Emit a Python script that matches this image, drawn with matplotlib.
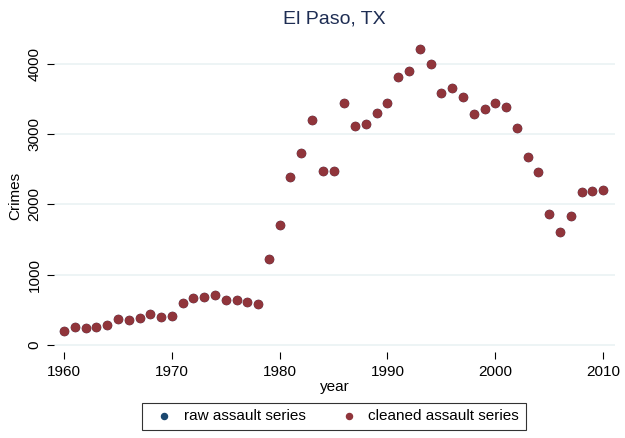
import numpy as np
import matplotlib
matplotlib.use("Agg")
from matplotlib import pyplot as plt

plt.rcParams['font.family'] = ['Liberation Sans', 'DejaVu Sans']

years = list(range(1960, 2011))
cleaned = [199, 256, 242, 256, 285, 370, 356, 384, 441, 399,
           413, 598, 669, 683, 712, 640, 640, 612, 584, 1224,
           1708, 2391, 2733, 3203, 2477, 2477, 3445, 3117, 3146, 3302,
           3445, 3815, 3900, 4213, 4000, 3587, 3658, 3530, 3288, 3359,
           3445, 3388, 3089, 2676, 2463, 1865, 1609, 1836, 2178, 2192,
           2206]
raw = list(cleaned)

fig = plt.figure(figsize=(6.25, 4.38), dpi=100)
ax = fig.add_axes([54/625, 1 - 352/438, 561/625, 312/438])

ax.scatter(years, raw, s=34, color="#1a476f", label="raw assault series", zorder=2)
ax.scatter(years, cleaned, s=34, color="#90353b", label="cleaned assault series", zorder=3)

ax.set_xlim(1959.07, 2011.1)
ax.set_ylim(-100, 4340)
ax.set_xticks([1960, 1970, 1980, 1990, 2000, 2010])
ax.set_yticks([0, 1000, 2000, 3000, 4000])
ax.set_yticklabels(["0", "1000", "2000", "3000", "4000"], rotation=90, va="center")
ax.grid(axis="y", color="#eaf2f3", linewidth=1.2)
ax.set_axisbelow(True)
for s in ax.spines.values():
    s.set_visible(False)
ax.tick_params(axis="both", labelsize=11, length=5, color="black", width=0.8, pad=4)

ax.set_xlabel("year", fontsize=11, labelpad=1)
ax.set_ylabel("Crimes", fontsize=11, labelpad=4)
ax.set_title("El Paso, TX", fontsize=14, color="#1e2d53", pad=12)

leg = fig.legend(loc="lower center", bbox_to_anchor=(334/625, 0.0), ncol=2,
                 fontsize=11, frameon=True, fancybox=False, edgecolor="black",
                 handletextpad=0.3, columnspacing=1.8, borderpad=0.45,
                 markerscale=0.75)
leg.get_frame().set_linewidth(0.8)

fig.savefig("out.png", dpi=100, facecolor="white")
